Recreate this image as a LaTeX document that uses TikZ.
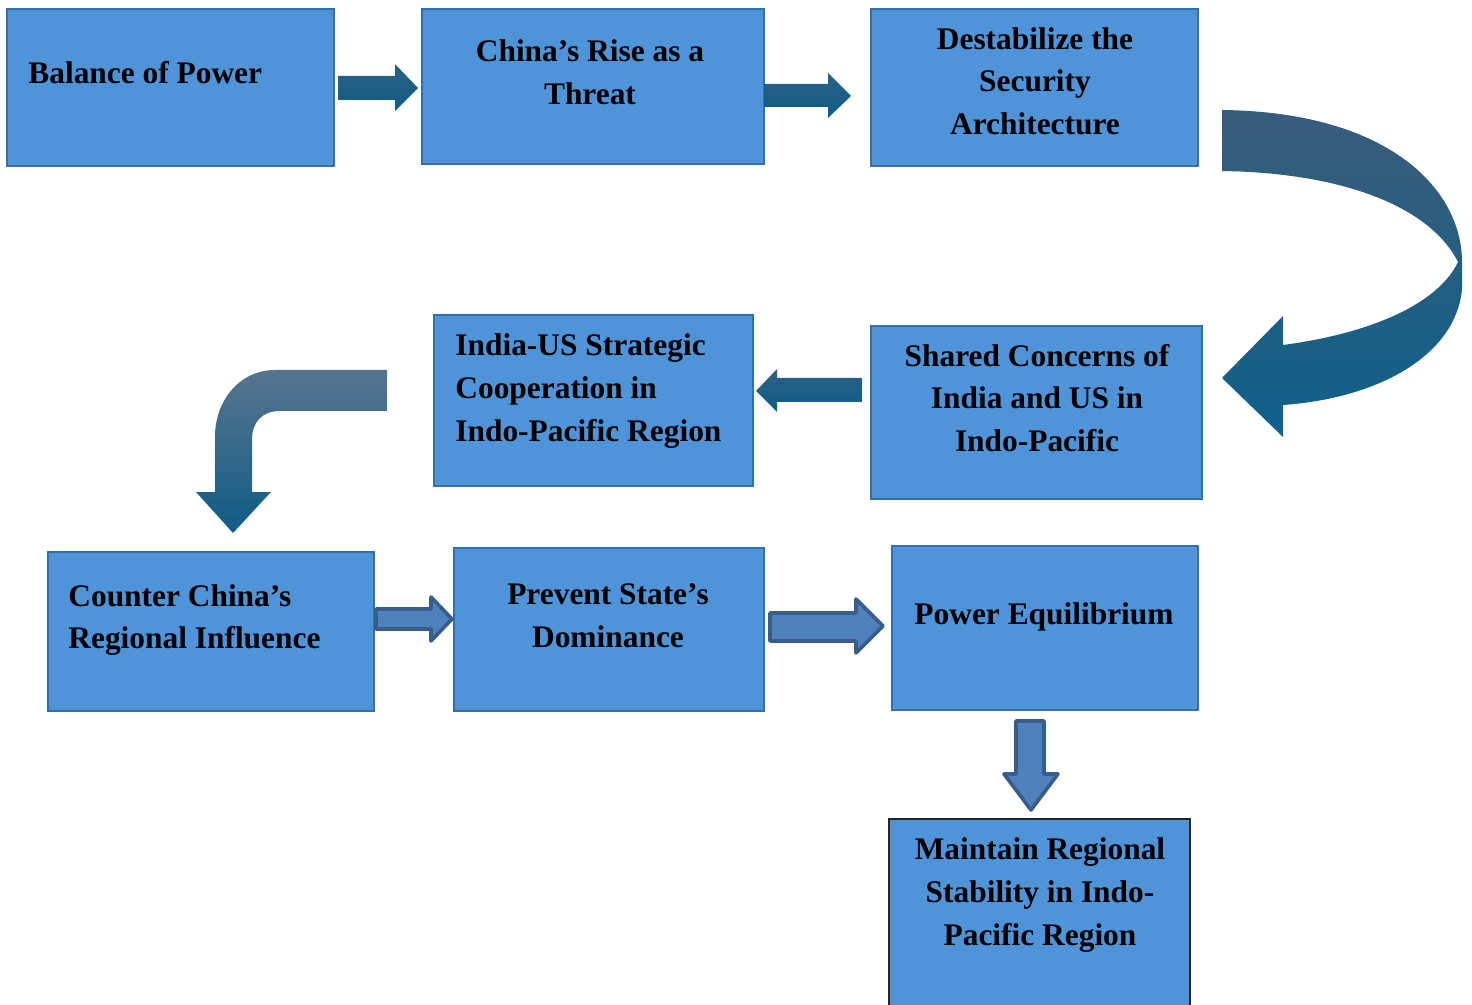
\documentclass[tikz,border=0pt]{standalone}
\usepackage{fontspec}
\setmainfont{Liberation Serif}
\usetikzlibrary{fit}
\definecolor{boxfill}{RGB}{79,148,216}
\definecolor{boxline}{RGB}{46,112,176}
\definecolor{tealtop}{RGB}{44,96,132}
\definecolor{tealbot}{RGB}{16,92,134}
\definecolor{curvtop}{RGB}{58,92,122}
\definecolor{curvbot}{RGB}{14,96,138}
\definecolor{barfill}{RGB}{79,129,189}
\definecolor{barline}{RGB}{56,93,138}
\tikzset{
  box/.style={draw=boxline, fill=boxfill, line width=0.8pt, inner sep=0pt},
  lbl/.style={font=\fontsize{15.7}{21.3}\selectfont\bfseries, inner sep=0pt, text=black},
  tealarrow/.style={top color=tealtop, bottom color=tealbot, draw=none},
  bluearrow/.style={fill=barfill, draw=barline, line width=1.8pt, line join=round}
}
\begin{document}
\begin{tikzpicture}[x=0.5pt,y=-0.5pt]
\useasboundingbox (0,0) rectangle (1472,1005);
\clip (0,0) rectangle (1472,1005);
% boxes
\node[box, fit={(7,9) (334,166)}] (b1) {};
\node[box, fit={(422,9) (764,164)}] (b2) {};
\node[box, fit={(871,9) (1198,166)}] (b3) {};
\node[box, fit={(434,315) (753,486)}] (b4) {};
\node[box, fit={(871,326) (1202,499)}] (b5) {};
\node[box, fit={(48,552) (374,711)}] (b6) {};
\node[box, fit={(454,548) (764,711)}] (b7) {};
\node[box, fit={(892,546) (1198,710)}] (b8) {};
\node[box, draw=black!85, line width=1.1pt, fit={(889,819) (1190,1030)}] (b9) {};
% labels
\node[lbl, anchor=west] (t1) at (28,73) {Balance of Power};
\node[lbl, align=center] (t2) at (590,72) {China’s Rise as a\\Threat};
\node[lbl, align=center] (t3) at (1035,81) {Destabilize the\\Security\\Architecture};
\node[lbl, align=left, anchor=west] (t4) at (455,391) {India-US Strategic\\Cooperation in\\Indo-Pacific Region};
\node[lbl, align=center] (t5) at (1037,398) {Shared Concerns of\\India and US in\\Indo-Pacific};
\node[lbl, align=left, anchor=west] (t6) at (68,620) {Counter China’s\\Regional Influence};
\node[lbl, align=center] (t7) at (608,616) {Prevent State’s\\Dominance};
\node[lbl] (t8) at (1044,617) {Power Equilibrium};
\node[lbl, align=center] (t9) at (1040,895) {Maintain Regional\\Stability in Indo-\\Pacific Region};
% straight teal arrows
\path[tealarrow] (338,76) -- (395,76) -- (395,64) -- (418,88) -- (395,111) -- (395,100) -- (338,100) -- cycle;
\path[tealarrow] (764,84) -- (828,84) -- (828,73) -- (851,96) -- (828,118) -- (828,107) -- (764,107) -- cycle;
\path[tealarrow] (862,378) -- (777,378) -- (777,369) -- (756,391) -- (777,412) -- (777,402) -- (862,402) -- cycle;
% curved arrow
\path[top color=curvtop, bottom color=curvbot] (1222,110) .. controls (1390,112) and (1462,190) .. (1462,262)
  -- (1462,290) .. controls (1455,355) and (1380,398) .. (1283,405)
  -- (1283,437) -- (1222,378) -- (1283,316) -- (1283,345)
  .. controls (1380,332) and (1440,300) .. (1458,262)
  .. controls (1432,210) and (1350,173) .. (1222,171) -- cycle;
% bent arrow
\path[top color=curvtop!85!white, bottom color=tealbot] (387,370) -- (275,370) .. controls (240,370) and (215,400) .. (215,437)
  -- (215,492) -- (196,492) -- (233,533) -- (271,492) -- (252,492) -- (252,440)
  .. controls (252,422) and (262,411) .. (280,411) -- (387,411) -- cycle;
% blue outlined arrows
\draw[bluearrow] (376,609) -- (431,609) -- (431,597) -- (452,619) -- (431,641) -- (431,629) -- (376,629) -- cycle;
\draw[bluearrow] (770,613) -- (856,613) -- (856,599) -- (883,626) -- (856,653) -- (856,641) -- (770,641) -- cycle;
\draw[bluearrow] (1016,721) -- (1044,721) -- (1044,774) -- (1058,774) -- (1031,810) -- (1004,774) -- (1016,774) -- cycle;
\end{tikzpicture}
\end{document}
